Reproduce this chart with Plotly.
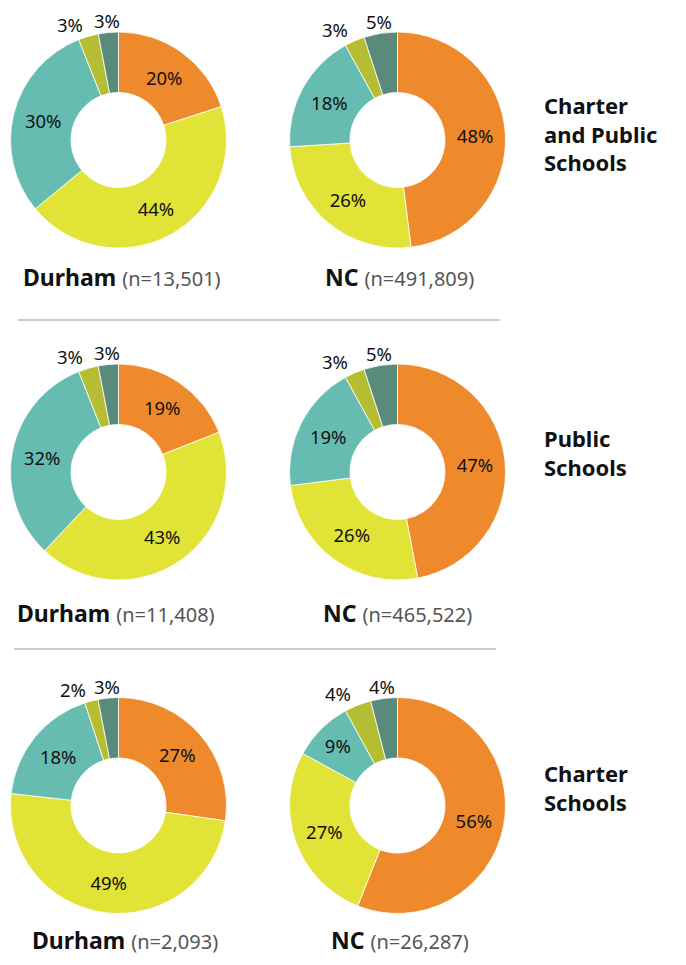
import math
import plotly.graph_objects as go

# Browser body margin is 8px; the figure is sized to fit inside the window.
OFF = 8
FW, FH = 686 - OFF, 965 - OFF

categories = ["White", "Black", "Hispanic", "Asian", "Other"]
colors = ["#EF8A2C", "#E2E337", "#67BCB1", "#B5BE32", "#5A8A7B"]

durham_all = [20, 44, 30, 3, 3]
nc_all = [48, 26, 18, 3, 5]
durham_public = [19, 43, 32, 3, 3]
nc_public = [47, 26, 19, 3, 5]
durham_charter = [27, 49, 18, 2, 3]
nc_charter = [56, 27, 9, 4, 4]

place_names = ["Durham", "NC", "Durham", "NC", "Durham", "NC"]
n_counts = ["13,501", "491,809", "11,408", "465,522", "2,093", "26,287"]
row_titles = ["Charter<br>and Public<br>Schools", "Public<br>Schools", "Charter<br>Schools"]

series = [durham_all, nc_all, durham_public, nc_public, durham_charter, nc_charter]
inside_flags = [True, True, True, False, False]

# layout geometry (screen pixels from top-left of the window)
col_cx = [118.5, 397.5]
row_cy = [140, 472, 805.5]
R = 108


def px_x(x):
    return (x - OFF) / FW


def px_y(y):
    return 1 - (y - OFF) / FH


FONT = "Noto Sans"
PCT_SIZE = 18.5

fig = go.Figure()
for i, vals in enumerate(series):
    r, c = divmod(i, 2)
    cx, cy = col_cx[c], row_cy[r]
    texts = [f"{v}%" if f else "" for v, f in zip(vals, inside_flags)]
    fig.add_trace(go.Pie(
        labels=categories,
        values=vals,
        text=texts,
        sort=False,
        direction="clockwise",
        rotation=0,
        hole=0.44,
        marker=dict(colors=colors, line=dict(color="white", width=0.8)),
        textinfo="text",
        textposition="inside",
        insidetextorientation="horizontal",
        textfont=dict(family=FONT, size=PCT_SIZE, color="#111"),
        hovertemplate="%{label}: %{value}%<extra></extra>",
        showlegend=False,
        domain=dict(x=[px_x(cx - R), px_x(cx + R)], y=[px_y(cy + R), px_y(cy - R)]),
    ))
    # labels for the small slices, placed outside at each slice's mid-angle
    total = sum(vals)
    cum = 0
    for v, f in zip(vals, inside_flags):
        start = cum
        cum += v
        if f:
            continue
        theta = 2 * math.pi * (start + v / 2) / total
        rr = R + 12
        lx = cx + rr * math.sin(theta)
        ly = cy - rr * math.cos(theta)
        s = math.sin(theta)
        anchor = "center" if abs(s) < 0.2 else ("right" if s < 0 else "left")
        fig.add_annotation(
            x=px_x(lx), y=px_y(ly), xref="paper", yref="paper",
            xanchor=anchor, yanchor="middle", showarrow=False,
            text=f"{v}%", font=dict(family=FONT, size=PCT_SIZE, color="#111"),
        )

label_y = [277, 613, 940]
label_x = [[121.5, 399.5], [116, 397], [124.5, 400]]
for i, (name, n) in enumerate(zip(place_names, n_counts)):
    r, c = divmod(i, 2)
    fig.add_annotation(
        x=px_x(label_x[r][c]), y=px_y(label_y[r]), xref="paper", yref="paper",
        xanchor="center", yanchor="middle", showarrow=False,
        text=f"<b>{name}</b> <span style='font-size:20px;color:#555'>(n={n})</span>",
        font=dict(family=FONT, size=23, color="#111"),
    )

title_mid = [133, 453, 787]
for r, t in enumerate(row_titles):
    fig.add_annotation(
        x=px_x(542), y=px_y(title_mid[r]), xref="paper", yref="paper",
        xanchor="left", yanchor="middle", showarrow=False, align="left",
        text=f"<b>{t}</b>",
        font=dict(family=FONT, size=22, color="#111"),
    )

for (y, x0, x1) in [(320, 18, 500), (649, 14, 496)]:
    fig.add_shape(type="line", xref="paper", yref="paper",
                  x0=px_x(x0), x1=px_x(x1), y0=px_y(y), y1=px_y(y),
                  line=dict(color="#999", width=1))

fig.update_layout(
    width=FW, height=FH,
    margin=dict(l=0, r=0, t=0, b=0),
    paper_bgcolor="white", plot_bgcolor="white",
    font=dict(family=FONT),
)
fig.write_html("out.html")
